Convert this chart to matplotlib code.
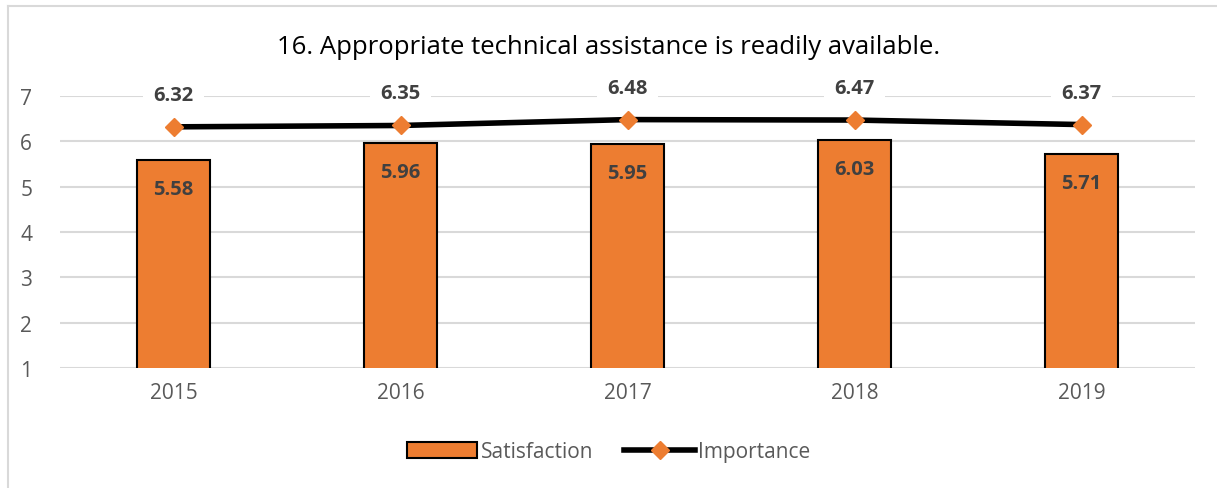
import matplotlib

matplotlib.use("Agg")
import matplotlib.pyplot as plt
from matplotlib.lines import Line2D

years = ["2015", "2016", "2017", "2018", "2019"]
satisfaction = [5.58, 5.96, 5.95, 6.03, 5.71]
importance = [6.32, 6.35, 6.48, 6.47, 6.37]

plt.rcParams["font.family"] = ["Open Sans", "DejaVu Sans"]
ORANGE = "#ED7D31"
GREY = "#595959"
LABEL = "#404040"

fig = plt.figure(figsize=(12.17, 4.89), dpi=100)
ax = fig.add_axes([0.0493, 0.2454, 0.9327, 0.5562])

x = list(range(len(years)))
bars = ax.bar(x, satisfaction, bottom=0, width=0.32, color=ORANGE, edgecolor="black",
              linewidth=1.5, label="Satisfaction", zorder=2)
line, = ax.plot(x, importance, color="black", linewidth=4, marker="D", markersize=9,
                markerfacecolor=ORANGE, markeredgecolor=ORANGE, label="Importance", zorder=3)

for xi, v in zip(x, satisfaction):
    ax.annotate(f"{v:.2f}", (xi, v), xytext=(0, -29), textcoords="offset pixels",
                ha="center", va="center", fontsize=14.5, fontweight="bold", color=LABEL, zorder=4)
for xi, v in zip(x, importance):
    ax.annotate(f"{v:.2f}", (xi, v), xytext=(0, 32), textcoords="offset pixels",
                ha="center", va="center", fontsize=14.5, fontweight="bold", color=LABEL, zorder=4,
                bbox=dict(boxstyle="square,pad=0.5", fc="white", ec="none"))

ax.set_xlim(-0.5, len(years) - 0.5)
ax.set_ylim(1, 7)
ax.set_yticks(range(1, 8))
ax.set_xticks(x)
ax.set_xticklabels(years)
ax.grid(axis="y", color="#d9d9d9", linewidth=1.5, zorder=0)
ax.set_axisbelow(True)
for s in ax.spines.values():
    s.set_visible(False)
ax.tick_params(axis="both", length=0, labelsize=15, labelcolor=GREY)
ax.tick_params(axis="y", pad=20)
ax.tick_params(axis="x", pad=10)

fig.text(0.5, 1 - 47 / 489, "16. Appropriate technical assistance is readily available.",
         ha="center", va="center", fontsize=18.5, color="black")

fig.legend([bars, line], ["Satisfaction", "Importance"], loc="center",
           bbox_to_anchor=(0.5, 1 - 453 / 489), ncol=2, frameon=False,
           fontsize=15, labelcolor=GREY, handlelength=3.4, handleheight=0.8,
           columnspacing=1.5, handletextpad=0.15)

# chart frame (left and top edges only visible)
fig.add_artist(Line2D([8 / 1217, 8 / 1217], [0, 1 - 7 / 489], transform=fig.transFigure,
                      color="#d9d9d9", linewidth=1.5))
fig.add_artist(Line2D([8 / 1217, 1], [1 - 7 / 489, 1 - 7 / 489], transform=fig.transFigure,
                      color="#d9d9d9", linewidth=1.5))

fig.savefig("out.png", dpi=100)
